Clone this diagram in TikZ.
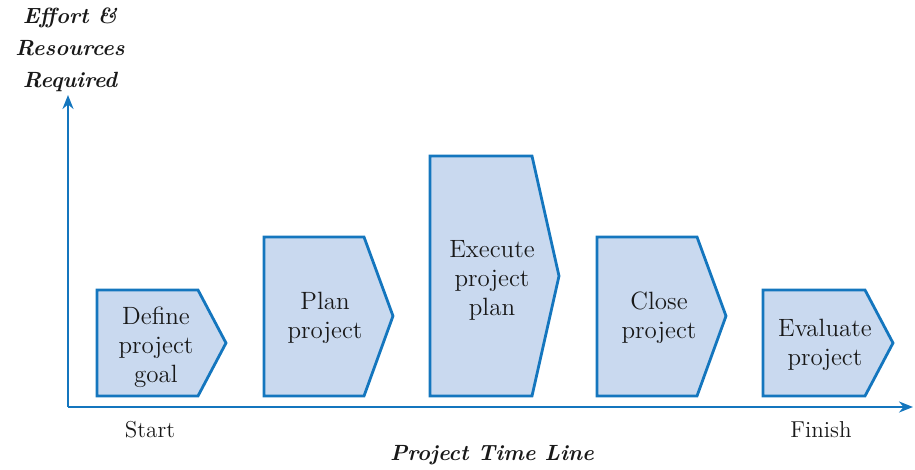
\documentclass[tikz,border=0pt]{standalone}
\usetikzlibrary{positioning, arrows.meta}
\definecolor{stageblue}{HTML}{1476BE}
\definecolor{stagefill}{HTML}{C9D9EF}

\begin{document}
\begin{tikzpicture}[x=0.5pt, y=-0.5pt, line width=1.4pt,
  stage/.style={draw=stageblue, fill=stagefill, line join=miter},
  stagetext/.style={align=center, font=\fontsize{12.5}{14.5}\selectfont, text=black!90},
  axis/.style={draw=stageblue, -{Stealth[length=7pt,width=5.5pt]}},
  axistext/.style={font=\fontsize{11.5}{14.5}\selectfont, text=black!90},
  title/.style={align=center, font=\fontsize{11}{16}\selectfont\bfseries\itshape, text=black!90}]
  \useasboundingbox (0,0) rectangle (915,470);

  % stages
  \draw[stage] (97,290) -- (198,290) -- (226,343) -- (198,396) -- (97,396) -- cycle;
  \draw[stage] (264,237) -- (364,237) -- (393,316) -- (364,396) -- (264,396) -- cycle;
  \draw[stage] (430,156) -- (532,156) -- (559,276) -- (532,396) -- (430,396) -- cycle;
  \draw[stage] (597,237) -- (697,237) -- (726,316) -- (697,396) -- (597,396) -- cycle;
  \draw[stage] (763,290) -- (865,290) -- (893,343) -- (865,396) -- (763,396) -- cycle;

  \node[stagetext] (define) at (156,347) {Define\\project\\goal};
  \node[stagetext] (plan) at (325,318) {Plan\\project};
  \node[stagetext] (execute) at (492,280) {Execute\\project\\plan};
  \node[stagetext] (close) at (659,318) {Close\\project};
  \node[stagetext] (evaluate) at (825,345) {Evaluate\\project};

  % axes
  \coordinate (origin) at (68,407);
  \coordinate (ytip) at (68,95);
  \coordinate (xtip) at (913,407);
  \draw[axis] (origin) -- (ytip);
  \draw[axis] (origin) -- (xtip);

  \node[axistext] (start) at (150,430) {Start};
  \node[axistext] (finish) at (821,430) {Finish};
  \node[title] (timeline) at (492,455) {Project Time Line};
  \node[title] (effort) at (70,50) {Effort \&\\Resources\\Required};
\end{tikzpicture}
\end{document}
